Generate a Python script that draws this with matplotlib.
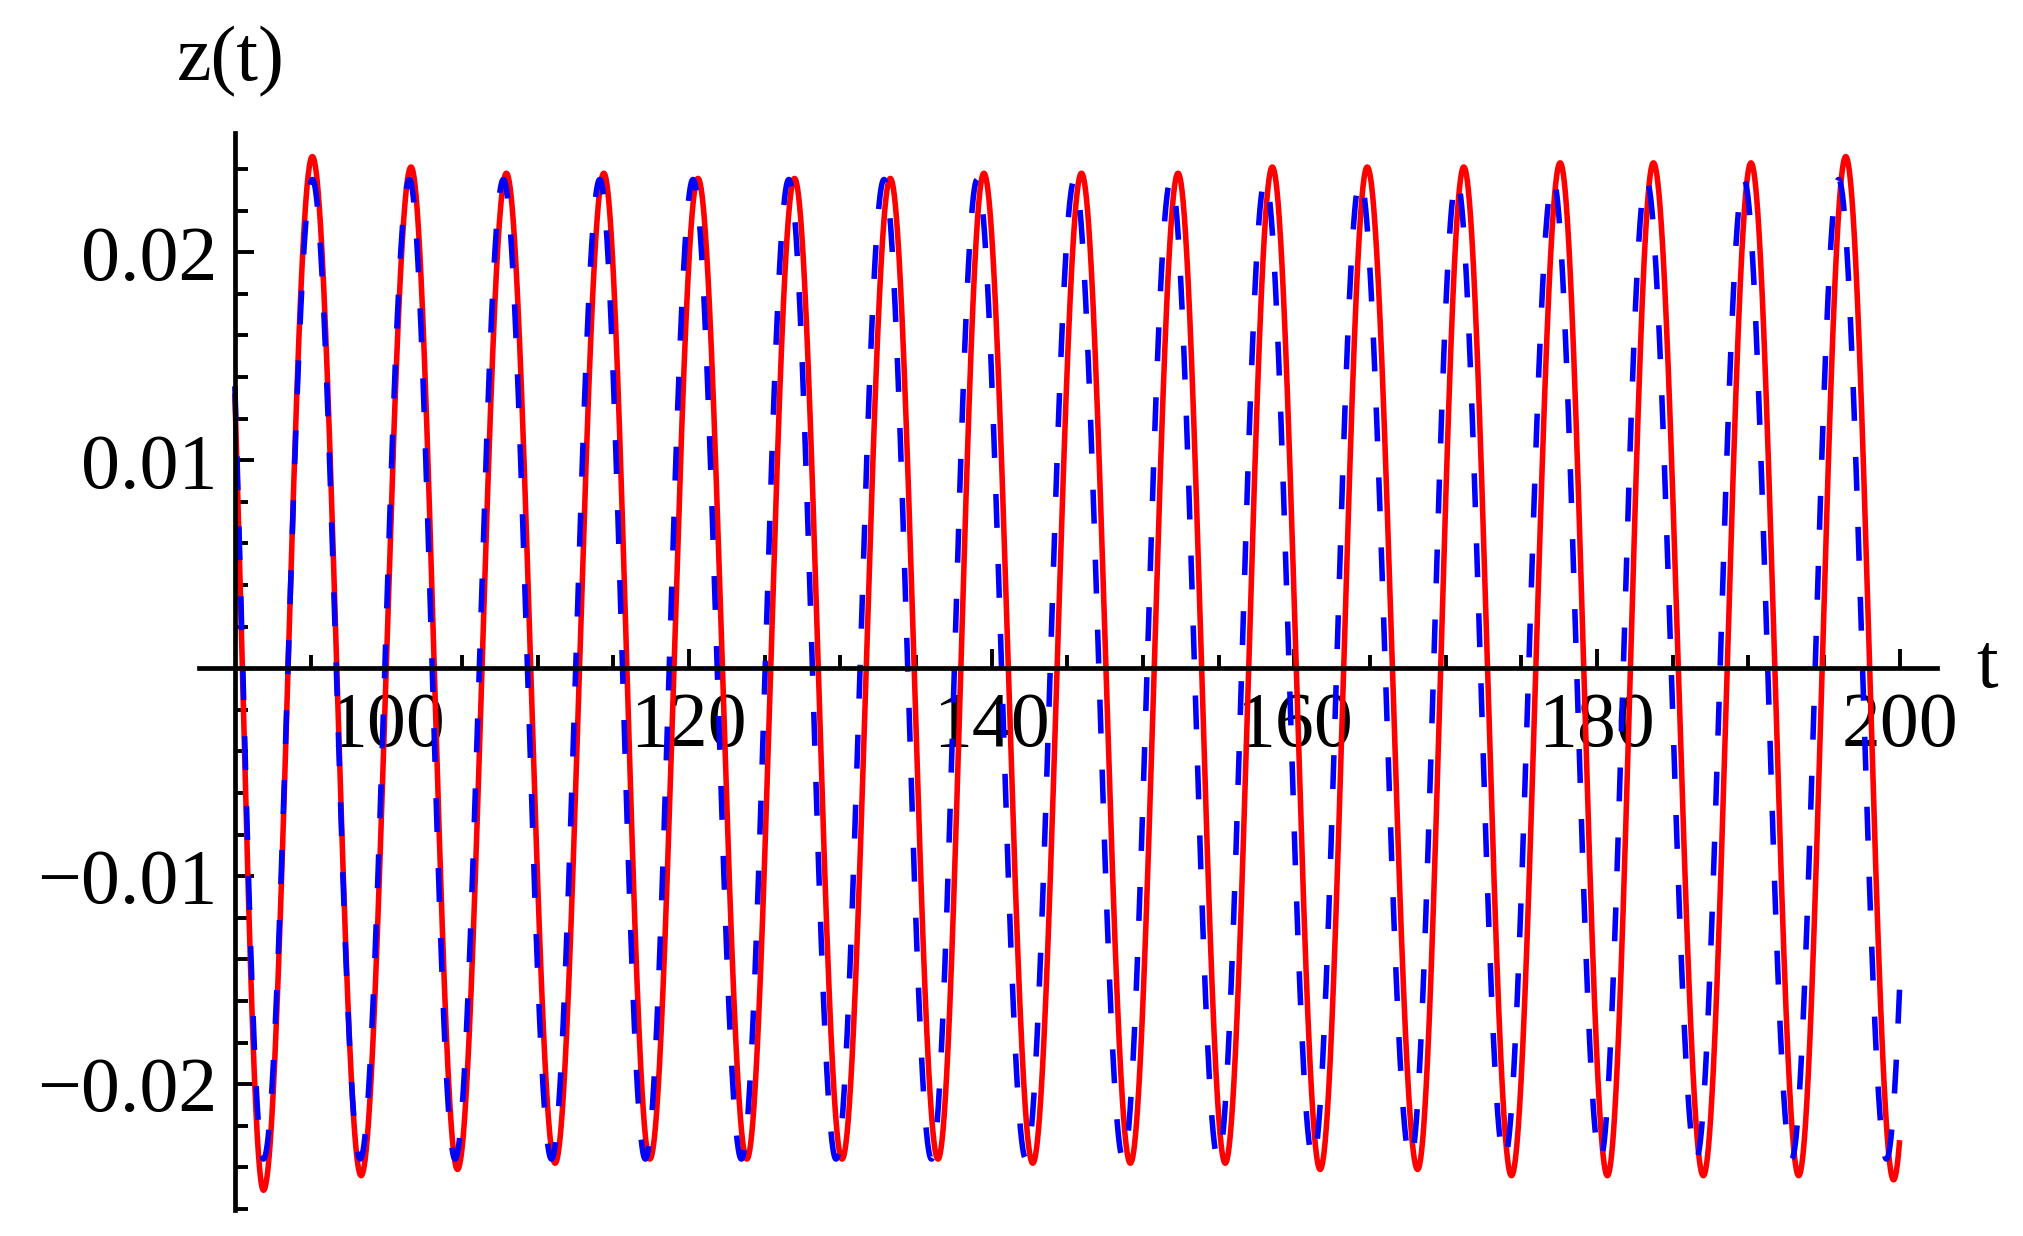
import numpy as np
import matplotlib
matplotlib.use("Agg")
import matplotlib.pyplot as plt
from matplotlib.ticker import FixedLocator, FixedFormatter

# ---- data -----------------------------------------------------------------
# Extrema (t, z) of the red solid curve.  The first and last entries sit just
# outside the plotted window (t = 90 ... 200) and only shape the curve ends.
red_t = [89.10, 91.89, 95.12, 98.34, 101.64, 104.71, 107.94, 111.16, 114.38,
         117.42, 120.60, 123.83, 126.98, 130.12, 133.31, 136.46, 139.49,
         142.72, 145.94, 149.17, 152.32, 155.44, 158.55, 161.71, 164.82,
         168.15, 171.20, 174.35, 177.57, 180.69, 183.73, 187.03, 190.18,
         193.33, 196.44, 199.60, 202.77]
red_z = [0.0250, -0.0251, 0.0246, -0.0244, 0.0241, -0.0241, 0.0238, -0.0238,
         0.0238, -0.0236, 0.02355, -0.0236, 0.02355, -0.0236, 0.02355,
         -0.0236, 0.0238, -0.0238, 0.0238, -0.0238, 0.0238, -0.0238, 0.0241,
         -0.0241, 0.0241, -0.0241, 0.0241, -0.0244, 0.0243, -0.0244, 0.0243,
         -0.0244, 0.0243, -0.0244, 0.0246, -0.0246, 0.0246]

# Extrema (t, z) of the blue dashed curve.
blue_t = [89.10, 91.89, 95.12, 98.28, 101.53, 104.55, 107.74, 110.92, 114.11,
          117.12, 120.27, 123.47, 126.60, 129.72, 132.89, 136.03, 139.05,
          142.27, 145.48, 148.70, 151.85, 154.97, 158.08, 161.24, 164.35,
          167.68, 170.73, 173.88, 177.10, 180.22, 183.26, 186.56, 189.71,
          192.86, 195.97, 199.13, 202.30]
blue_z = [0.0250, -0.0236, 0.0235, -0.0236, 0.0235, -0.0236, 0.0235, -0.0236,
          0.0235, -0.0236, 0.0235, -0.0236, 0.0235, -0.0236, 0.0235, -0.0236,
          0.0235, -0.0236, 0.0235, -0.0236, 0.0235, -0.0236, 0.0235, -0.0236,
          0.0235, -0.0236, 0.0235, -0.0236, 0.0235, -0.0236, 0.0235, -0.0236,
          0.0235, -0.0236, 0.0235, -0.0236, 0.0235]

t_start, t_end = 90, 200

x_major = [100, 120, 140, 160, 180, 200]
x_major_labels = ["100", "120", "140", "160", "180", "200"]
x_minor = [95, 105, 110, 115, 125, 130, 135, 145, 150, 155, 165, 170, 175,
           185, 190, 195]
y_major = [-0.02, -0.01, 0.01, 0.02]
y_major_labels = ["\u22120.02", "\u22120.01", "0.01", "0.02"]
y_minor = [-0.026, -0.024, -0.022, -0.018, -0.016, -0.014, -0.012, -0.008,
           -0.006, -0.004, -0.002, 0.002, 0.004, 0.006, 0.008, 0.012, 0.014,
           0.016, 0.018, 0.022, 0.024]

x_label = "t"
y_label = "z(t)"


# ---- drawing ----------------------------------------------------------------
def through_extrema(te, ze, t):
    """Smooth half-cosine arcs between consecutive extrema."""
    te = np.asarray(te, float)
    ze = np.asarray(ze, float)
    i = np.clip(np.searchsorted(te, t) - 1, 0, len(te) - 2)
    ta, tb = te[i], te[i + 1]
    za, zb = ze[i], ze[i + 1]
    s = (t - ta) / (tb - ta)
    return za + (zb - za) * (1 - np.cos(np.pi * s)) / 2


plt.rcParams["font.family"] = ["Liberation Serif", "DejaVu Serif"]

W, H = 2024, 1236
fig = plt.figure(figsize=(W / 100, H / 100), dpi=100)

left_px, right_px, top_px, bottom_px = 199, 1937, 132.7, 1210
ax = fig.add_axes([left_px / W, 1 - bottom_px / H,
                   (right_px - left_px) / W, (bottom_px - top_px) / H])
ax.set_xlim(87.63, 202.47)
ax.set_ylim(-0.02605, 0.02575)

tt = np.linspace(t_start, t_end, 6000)
ax.plot(tt, through_extrema(red_t, red_z, tt), color=(1, 0, 0), lw=4.0,
        solid_capstyle="butt", zorder=2)
ax.plot(tt, through_extrema(blue_t, blue_z, tt), color=(0, 0, 1), lw=4.0,
        dashes=(6.1, 6.5), zorder=2.1)

for side in ("top", "right"):
    ax.spines[side].set_visible(False)
ax.spines["left"].set_position(("data", t_start))
ax.spines["bottom"].set_position(("data", 0))
for side in ("left", "bottom"):
    ax.spines[side].set_linewidth(3.4)
    ax.spines[side].set_color("black")

ax.xaxis.set_major_locator(FixedLocator(x_major))
ax.xaxis.set_major_formatter(FixedFormatter(x_major_labels))
ax.xaxis.set_minor_locator(FixedLocator(x_minor))
ax.yaxis.set_major_locator(FixedLocator(y_major))
ax.yaxis.set_major_formatter(FixedFormatter(y_major_labels))
ax.yaxis.set_minor_locator(FixedLocator(y_minor))

ax.tick_params(which="major", direction="in", length=13.8, width=2.8,
               color="black", labelsize=56)
ax.tick_params(which="minor", direction="in", length=9.7, width=2.8,
               color="black")
ax.tick_params(axis="x", which="major", pad=17)
ax.tick_params(axis="y", which="major", pad=12.8)

fig.text(231 / W, 1 - 80 / H, y_label, fontsize=56, ha="center",
         va="baseline")
fig.text(1976 / W, 1 - 687 / H, x_label, fontsize=56, ha="left",
         va="baseline")

fig.savefig("out.png", dpi=100)
